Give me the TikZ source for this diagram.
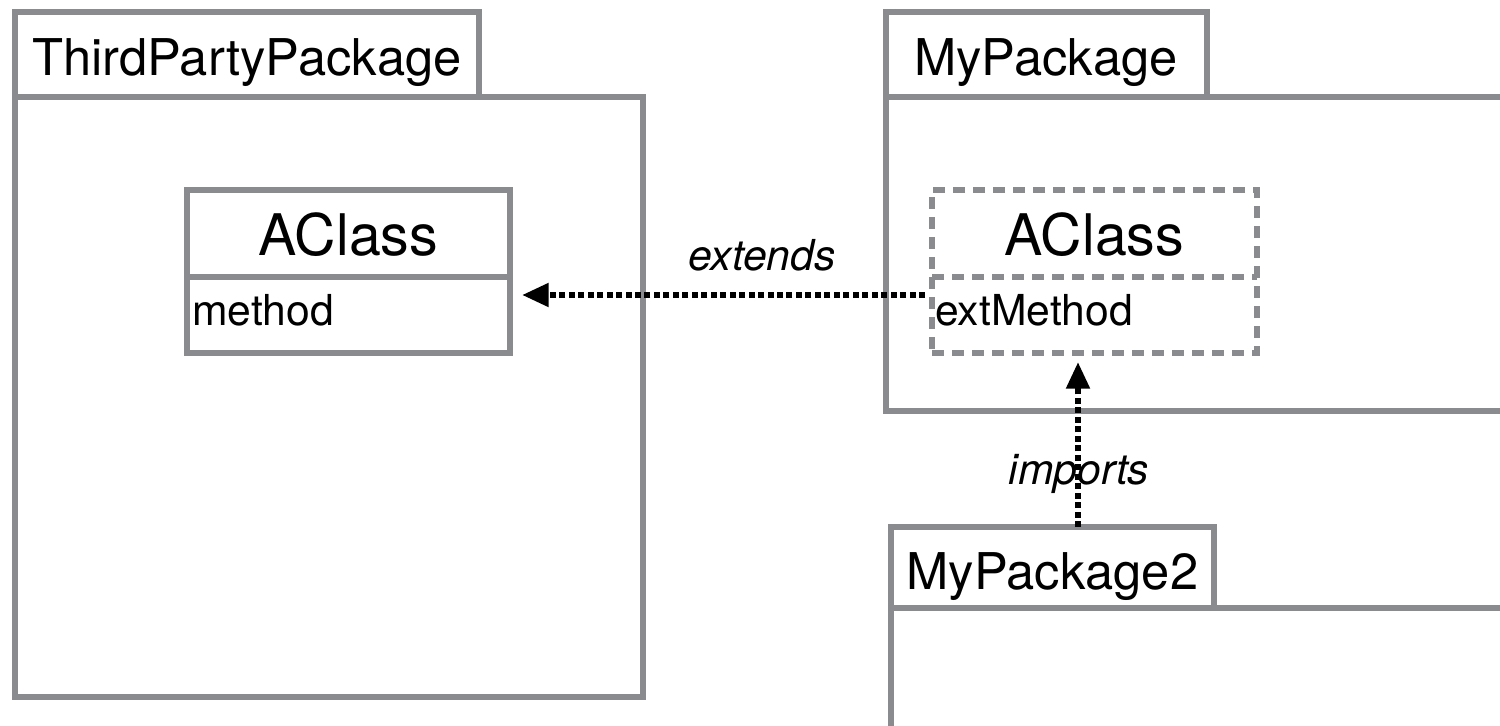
\documentclass[tikz,border=0pt]{standalone}
\usepackage{fontspec}
\setmainfont{TeX Gyre Heros}
\usetikzlibrary{arrows.meta}
\definecolor{pkggray}{RGB}{137,139,142}
\newcommand\pxu{0.75pt}
\begin{document}
\begin{tikzpicture}[x=0.75pt,y=-0.75pt,
  frame/.style={draw=pkggray, line width=4pt, fill=white, inner sep=0pt,
    outer sep=0pt, anchor=north west},
  dframe/.style={frame, dash pattern=on 9pt off 6pt},
  divider/.style={draw=pkggray, line width=4pt},
  ddivider/.style={divider, dash pattern=on 9pt off 6pt},
  pkgname/.style={font=\fontsize{38}{40}\selectfont, anchor=base, inner sep=0pt},
  classname/.style={font=\fontsize{43}{45}\selectfont, anchor=base, inner sep=0pt},
  member/.style={font=\fontsize{32}{34}\selectfont, anchor=base west, inner sep=0pt},
  rel/.style={font=\itshape\fontsize{32}{34}\selectfont, anchor=base, inner sep=0pt},
  dep/.style={line width=4.5pt, dash pattern=on 4.5pt off 2.6pt,
    -{Triangle[length=20pt,width=17pt]}},
]
\useasboundingbox (0,0) rectangle (1500,725);
\clip (0,0) rectangle (1500,725);

% ThirdPartyPackage
\node[frame, minimum width=628*\pxu, minimum height=600*\pxu] (tpBox) at (15,97) {};
\node[frame, minimum width=464*\pxu, minimum height=85*\pxu] (tpTab) at (15,12) {};
\node[pkgname] (tpName) at (247,75) {ThirdPartyPackage};

\node[frame, minimum width=323*\pxu, minimum height=163*\pxu] (tpClass) at (187,190) {};
\draw[divider] (tpClass.west |- 0,277) -- (tpClass.east |- 0,277);
\node[classname] (tpClassName) at (348.5,255) {AClass};
\node[member] (tpMethod) at (192,325) {method};

% MyPackage
\node[frame, minimum width=700*\pxu, minimum height=314*\pxu] (mpBox) at (886,97) {};
\node[frame, minimum width=321*\pxu, minimum height=85*\pxu] (mpTab) at (886,12) {};
\node[pkgname] (mpName) at (1046,75) {MyPackage};

\node[dframe, minimum width=325*\pxu, minimum height=163*\pxu] (myClass) at (932,190) {};
\draw[ddivider] (myClass.west |- 0,277) -- (myClass.east |- 0,277);
\node[classname] (myClassName) at (1094.5,255) {AClass};
\node[member] (myMethod) at (935,325) {extMethod};

% MyPackage2
\node[frame, minimum width=700*\pxu, minimum height=200*\pxu] (mp2Box) at (891,608) {};
\node[frame, minimum width=323*\pxu, minimum height=81*\pxu] (mp2Tab) at (891,527) {};
\node[pkgname] (mp2Name) at (1052.5,589) {MyPackage2};

% relations
\node[rel] (extLabel) at (762,270) {extends};
\node[rel] (impLabel) at (1079,484) {imports};

\coordinate (extFrom) at (925,295);
\draw[dep, shorten >=9pt] (extFrom) -- (extFrom -| tpClass.east);

\coordinate (impFrom) at (mp2Tab.north -| 1078,0);
\draw[dep, shorten >=6.75pt] (impFrom) -- (impFrom |- myClass.south);
\end{tikzpicture}
\end{document}
